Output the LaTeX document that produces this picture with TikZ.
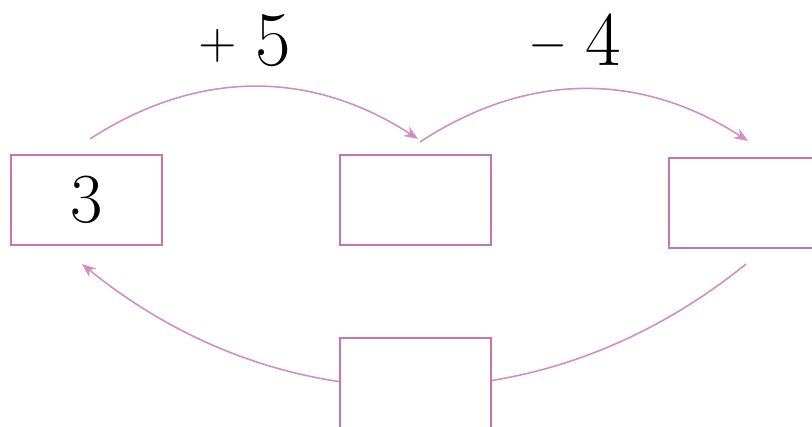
\documentclass[tikz,border=0pt]{standalone}
\usetikzlibrary{arrows.meta,calc}
\definecolor{boxpink}{HTML}{C774B2}
\definecolor{arcpink}{HTML}{D48CC1}
\tikzset{
  >={Stealth[length=1.4mm,width=1.1mm]},
  numbox/.style={draw=boxpink,line width=0.6pt,fill=white,minimum width=15.1mm,minimum height=9mm,inner sep=0pt,font=\fontsize{20}{24}\selectfont},
  hop/.style={->,draw=arcpink,line width=0.45pt},
  oplabel/.style={font=\fontsize{22}{26}\selectfont,inner sep=0pt,anchor=base},
}
\newcommand{\opsign}[1]{{\fontsize{14}{16}\selectfont\raisebox{0.65mm}{$#1$}}\hspace{1.8mm}}
\begin{document}
\begin{tikzpicture}[x=0.1mm,y=0.1mm]
  \useasboundingbox (0,0) rectangle (812,426);
  % boxes
  \node[numbox] (start) at (86.5,226) {3};
  \node[numbox] (mid) at (415.5,226) {};
  \node[numbox] (last) at (744.5,223) {};

  % return arc, runs behind the bottom box
  \coordinate (r1) at ($(last.south)+(1.5,-15)$);
  \coordinate (r2) at ($(start.south)+(-4.5,-18)$);
  \draw[hop] (r1) to[bend left=39] (r2);
  \node[numbox] (back) at (415.5,43) {};

  % hops on top
  \coordinate (a0) at ($(start.north)+(3.5,15)$);
  \coordinate (a1) at ($(mid.north)+(2.5,15)$);
  \coordinate (b0) at ($(mid.north)+(4.5,12)$);
  \coordinate (b1) at ($(last.north)+(3.5,16)$);
  \draw[hop] (a0) to[bend left=33] (a1);
  \draw[hop] (b0) to[bend left=33] (b1);
  \node[oplabel] (plus) at (244.5,361) {\opsign{+}5};
  \node[oplabel] (minus) at (575,361) {\opsign{-}4};
\end{tikzpicture}
\end{document}
